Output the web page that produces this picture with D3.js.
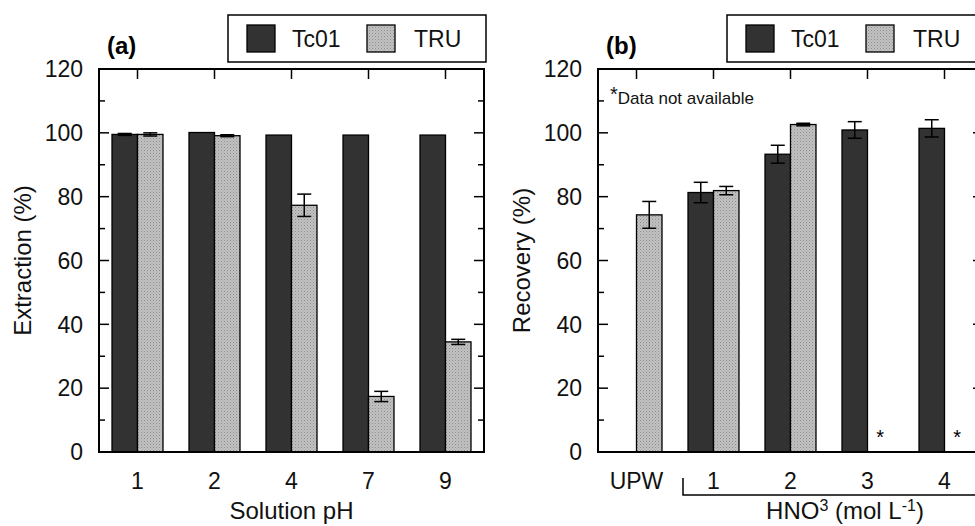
<!DOCTYPE html>
<html>
<head>
<meta charset="utf-8">
<script src="https://cdn.jsdelivr.net/npm/d3@7"></script>
<style>
  html, body { margin: 0; padding: 0; background: #fff; overflow: hidden; }
  svg { display: block; font-family: "Liberation Sans", Arial, sans-serif; }
</style>
</head>
<body>
<div id="chart"></div>
<script>
// panel (a): extraction vs solution pH
const groupsA = ["1", "2", "4", "7", "9"];
const tc01A = [99.5, 100.1, 99.3, 99.3, 99.3];
const tc01AErr = [0.3, 0, 0, 0, 0];
const truA = [99.5, 99.1, 77.3, 17.4, 34.5];
const truAErr = [0.5, 0.3, 3.5, 1.6, 0.8];

// panel (b): recovery vs HNO3 concentration
const groupsB = ["UPW", "1", "2", "3", "4"];
const tc01B = [0, 81.3, 93.3, 100.9, 101.4];
const tc01BErr = [0, 3.2, 2.8, 2.6, 2.7];
const truB = [74.3, 81.9, 102.6, null, null];
const truBErr = [4.2, 1.3, 0.4, null, null];

const seriesNames = ["Tc01", "TRU"];
const yTicks = [0, 20, 40, 60, 80, 100, 120];

const dark = "#323232";

const svg = d3.select("#chart").append("svg")
    .attr("width", 975)
    .attr("height", 526);

// fine dotted texture for the TRU bars
const pat = svg.append("defs").append("pattern")
    .attr("id", "dots")
    .attr("width", 3).attr("height", 3)
    .attr("patternUnits", "userSpaceOnUse");
pat.append("rect").attr("width", 3).attr("height", 3).attr("fill", "#c2c2c2");
pat.append("rect").attr("width", 1).attr("height", 1).attr("fill", "#8e8e8e");
pat.append("rect").attr("x", 1.5).attr("y", 1.5).attr("width", 1).attr("height", 1).attr("fill", "#a0a0a0");
const light = "url(#dots)";

function drawPanel(opt) {
    const left = opt.left, top = 69, w = 385, h = 383;

    const x = d3.scaleBand()
        .domain(opt.groups)
        .range([left, left + w])
        .padding(0);
    const xs = d3.scaleBand()
        .domain(seriesNames)
        .range([0, x.bandwidth()])
        .paddingInner(0)
        .paddingOuter(0.51);
    const y = d3.scaleLinear()
        .domain([0, 120])
        .range([top + h, top]);

    const g = svg.append("g");

    // minor + major ticks on left and right (inward)
    const minor = d3.range(10, 120, 20);
    g.append("g").selectAll("line").data(yTicks.concat(minor)).join("line")
        .attr("x1", left).attr("x2", d => left + (d % 20 === 0 ? 10 : 6))
        .attr("y1", d => y(d)).attr("y2", d => y(d))
        .attr("stroke", "#000").attr("stroke-width", 1.5);
    g.append("g").selectAll("line").data(yTicks.concat(minor)).join("line")
        .attr("x1", left + w).attr("x2", d => left + w - (d % 20 === 0 ? 10 : 6))
        .attr("y1", d => y(d)).attr("y2", d => y(d))
        .attr("stroke", "#000").attr("stroke-width", 1.5);
    // top ticks at group centers
    g.append("g").selectAll("line").data(opt.groups).join("line")
        .attr("x1", d => x(d) + x.bandwidth() / 2).attr("x2", d => x(d) + x.bandwidth() / 2)
        .attr("y1", top).attr("y2", top + 10)
        .attr("stroke", "#000").attr("stroke-width", 1.5);

    // y tick labels
    g.append("g").selectAll("text").data(yTicks).join("text")
        .attr("x", left - 16)
        .attr("y", d => y(d))
        .attr("dy", "0.36em")
        .attr("text-anchor", "end")
        .attr("font-size", 23)
        .attr("fill", "#111")
        .text(d => d);

    // x tick labels
    g.append("g").selectAll("text").data(opt.groups).join("text")
        .attr("x", d => x(d) + x.bandwidth() / 2)
        .attr("y", top + h + 37)
        .attr("text-anchor", "middle")
        .attr("font-size", 23)
        .attr("fill", "#111")
        .text(d => d);

    // bars
    const rows = opt.groups.map((d, i) => ({
        g: d,
        vals: [
            { s: "Tc01", v: opt.tc[i], e: opt.tcErr[i] },
            { s: "TRU", v: opt.tru[i], e: opt.truErr[i] }
        ]
    }));
    const grp = g.append("g").selectAll("g").data(rows).join("g")
        .attr("transform", d => `translate(${x(d.g)},0)`);

    grp.selectAll("rect").data(d => d.vals.filter(v => v.v !== null)).join("rect")
        .attr("x", d => xs(d.s))
        .attr("y", d => y(d.v))
        .attr("width", xs.bandwidth())
        .attr("height", d => y(0) - y(d.v))
        .attr("fill", d => d.s === "Tc01" ? dark : light)
        .attr("stroke", "#000")
        .attr("stroke-width", 1.3);

    // error bars
    const eb = grp.selectAll("g.err").data(d => d.vals.filter(v => v.v !== null && v.e > 0)).join("g")
        .attr("class", "err");
    eb.append("line")
        .attr("x1", d => xs(d.s) + xs.bandwidth() / 2)
        .attr("x2", d => xs(d.s) + xs.bandwidth() / 2)
        .attr("y1", d => y(d.v + d.e)).attr("y2", d => y(d.v - d.e))
        .attr("stroke", "#000").attr("stroke-width", 1.5);
    eb.selectAll("line.cap").data(d => [d.v + d.e, d.v - d.e].map(t => ({ s: d.s, t: t }))).join("line")
        .attr("class", "cap")
        .attr("x1", d => xs(d.s) + xs.bandwidth() / 2 - 7)
        .attr("x2", d => xs(d.s) + xs.bandwidth() / 2 + 7)
        .attr("y1", d => y(d.t)).attr("y2", d => y(d.t))
        .attr("stroke", "#000").attr("stroke-width", 1.5);

    // asterisks for missing data
    grp.selectAll("text.na").data(d => d.vals.filter(v => v.v === null)).join("text")
        .attr("class", "na")
        .attr("x", d => xs(d.s) + xs.bandwidth() / 2)
        .attr("y", y(0) - 8)
        .attr("text-anchor", "middle")
        .attr("font-size", 20)
        .text("*");

    // frame
    g.append("rect")
        .attr("x", left).attr("y", top)
        .attr("width", w).attr("height", h)
        .attr("fill", "none")
        .attr("stroke", "#000")
        .attr("stroke-width", 2);

    // panel letter
    g.append("text")
        .attr("x", left + 8).attr("y", 54)
        .attr("font-size", 24).attr("font-weight", "bold")
        .text(opt.letter);

    // legend
    const lg = g.append("g").attr("transform", `translate(${left + opt.legendDx},15)`);
    lg.append("rect")
        .attr("width", 258).attr("height", 47)
        .attr("fill", "#fff").attr("stroke", "#000").attr("stroke-width", 1.5);
    seriesNames.forEach((s, i) => {
        lg.append("rect")
            .attr("x", 19 + i * 120).attr("y", 10)
            .attr("width", 28).attr("height", 27)
            .attr("fill", i === 0 ? dark : light)
            .attr("stroke", "#000").attr("stroke-width", 1.3);
        lg.append("text")
            .attr("x", 64 + i * 122).attr("y", 32)
            .attr("font-size", 23)
            .attr("fill", "#111")
            .text(s);
    });

    // y axis title
    g.append("text")
        .attr("transform", `translate(${left - 68},${top + h / 2}) rotate(-90)`)
        .attr("text-anchor", "middle")
        .attr("font-size", 24)
        .attr("fill", "#111")
        .text(opt.yTitle);

    return { g, x, y, top, h, left, w };
}

const pa = drawPanel({
    left: 99, letter: "(a)", groups: groupsA,
    tc: tc01A, tcErr: tc01AErr, tru: truA, truErr: truAErr,
    yTitle: "Extraction (%)", legendDx: 129
});
pa.g.append("text")
    .attr("x", pa.left + pa.w / 2).attr("y", 519)
    .attr("text-anchor", "middle")
    .attr("font-size", 24)
    .attr("fill", "#111")
    .text("Solution pH");

const pb = drawPanel({
    left: 598, letter: "(b)", groups: groupsB,
    tc: tc01B, tcErr: tc01BErr, tru: truB, truErr: truBErr,
    yTitle: "Recovery (%)", legendDx: 129
});

// note
const note = pb.g.append("text")
    .attr("x", pb.left + 12).attr("y", 104)
    .attr("font-size", 17)
    .attr("fill", "#111");
note.append("tspan").attr("font-size", 20).attr("dy", -3).text("*");
note.append("tspan").attr("dy", 3).text("Data not available");

// bracket for HNO3 concentrations
const bx = pb.x("1") + 8;
pb.g.append("path")
    .attr("d", `M${bx},478 V495 H${pb.left + pb.w + 5}`)
    .attr("fill", "none")
    .attr("stroke", "#000")
    .attr("stroke-width", 1.5);

const xt = pb.g.append("text")
    .attr("x", 845).attr("y", 519)
    .attr("text-anchor", "middle")
    .attr("font-size", 24)
    .attr("fill", "#111");
xt.append("tspan").text("HNO");
xt.append("tspan").attr("font-size", 16).attr("dy", -8).text("3");
xt.append("tspan").attr("dy", 8).text(" (mol L");
xt.append("tspan").attr("font-size", 16).attr("dy", -8).text("-1");
xt.append("tspan").attr("dy", 8).text(")");
</script>
</body>
</html>
